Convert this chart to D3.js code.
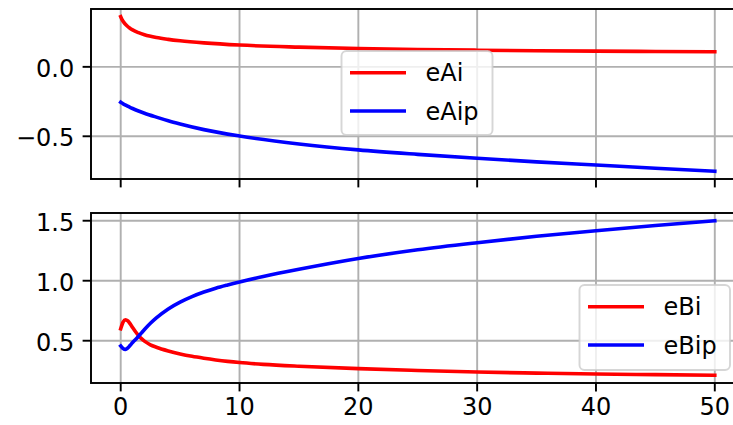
<!DOCTYPE html>
<html><head><meta charset="utf-8">
<script src="https://cdn.jsdelivr.net/npm/d3@7"></script>
<style>body{margin:0;background:#fff}svg{display:block}text{font-family:"DejaVu Sans",sans-serif}</style>
</head><body><svg id="c" width="733" height="425"></svg>
<script>
// ---- data ----
const xA = [0,0.1,0.25,0.5,0.75,1,1.5,2,3,4,5,7,10,15,20,25,30,35,40,45,50];
const eAi  = [0.361,0.342,0.322,0.298,0.28,0.266,0.246,0.231,0.211,0.198,0.188,0.173,0.157,0.142,0.132,0.125,0.12,0.116,0.113,0.111,0.109];
const eAip = [-0.255,-0.261,-0.268,-0.279,-0.29,-0.3,-0.318,-0.334,-0.362,-0.388,-0.411,-0.452,-0.498,-0.555,-0.598,-0.63,-0.658,-0.684,-0.707,-0.73,-0.752];
const xB = [0,0.2,0.4,0.6,0.8,1,1.25,1.5,1.75,2,2.5,3,4,5,6,7,8,9,10,12,15,20,25,30,35,40,45,50];
const eBi  = [0.60,0.655,0.675,0.665,0.64,0.61,0.575,0.543,0.517,0.496,0.466,0.446,0.415,0.39,0.37,0.354,0.34,0.328,0.318,0.303,0.287,0.267,0.252,0.239,0.23,0.222,0.217,0.212];
const eBip = [0.456,0.435,0.428,0.44,0.462,0.485,0.51,0.537,0.565,0.593,0.645,0.69,0.765,0.822,0.868,0.906,0.938,0.965,0.99,1.035,1.095,1.185,1.258,1.317,1.37,1.417,1.46,1.50];
const xTicks = [0,10,20,30,40,50];
const yTicksA = [-0.5,0.0];
const yTicksB = [0.5,1.0,1.5];
const legendA = ["eAi","eAip"];
const legendB = ["eBi","eBip"];
const colors = ["#ff0000","#0000ff"];

// ---- layout ----
const S = 2.4; // pt -> px
const svg = d3.select("#c");
const left = 91, right = 744.5;
const x = d3.scaleLinear().domain([-2.5,52.5]).range([left,right]);
function padded(arrs){const all=arrs.flat();const [a,b]=d3.extent(all);const p=(b-a)*0.05;return [a-p,b+p];}
const yA = d3.scaleLinear().domain(padded([eAi,eAip])).range([179,9]);
const yB = d3.scaleLinear().domain(padded([eBi,eBip])).range([383,213]);
const fmt = v => (v<0?"\u2212":"") + Math.abs(v).toFixed(1);

function panel(y, xs, series, yTicks, labels, showX, legend){
  const [y0,y1] = y.range();
  const g = svg.append("g");
  // grid
  xTicks.forEach(t=>g.append("line").attr("x1",x(t)).attr("x2",x(t)).attr("y1",y1).attr("y2",y0)
    .attr("stroke","#b0b0b0").attr("stroke-width",0.8*S));
  yTicks.forEach(t=>g.append("line").attr("x1",left).attr("x2",right).attr("y1",y(t)).attr("y2",y(t))
    .attr("stroke","#b0b0b0").attr("stroke-width",0.8*S));
  // lines
  const line = d3.line().x((d,i)=>x(xs[i])).y(d=>y(d)).curve(d3.curveMonotoneX);
  series.forEach((s,k)=>g.append("path").attr("d",line(s)).attr("fill","none")
    .attr("stroke",colors[k]).attr("stroke-width",1.5*S).attr("stroke-linecap","square"));
  // spines
  g.append("rect").attr("x",left).attr("y",y1).attr("width",right-left).attr("height",y0-y1)
    .attr("fill","none").attr("stroke","#000").attr("stroke-width",0.8*S);
  // ticks
  yTicks.forEach(t=>{
    g.append("line").attr("x1",left-3.5*S).attr("x2",left).attr("y1",y(t)).attr("y2",y(t)).attr("stroke","#000").attr("stroke-width",0.8*S);
    g.append("text").attr("x",left-7*S).attr("y",y(t)+10).attr("text-anchor","end").attr("font-size",24).text(fmt(t));
  });
  xTicks.forEach(t=>{
    g.append("line").attr("x1",x(t)).attr("x2",x(t)).attr("y1",y0).attr("y2",y0+3.5*S).attr("stroke","#000").attr("stroke-width",0.8*S);
    if(showX) g.append("text").attr("x",x(t)).attr("y",y0+32).attr("text-anchor","middle").attr("font-size",24).text(t);
  });
  // legend
  const L = legend;
  g.append("rect").attr("x",L.x).attr("y",L.y).attr("width",L.w).attr("height",L.h).attr("rx",5)
    .attr("fill","#fff").attr("fill-opacity",0.8).attr("stroke","#cccccc").attr("stroke-opacity",0.8).attr("stroke-width",0.8*S);
  labels.forEach((lab,k)=>{
    const ly = L.y + 21.7 + k*38.3;
    g.append("line").attr("x1",L.x+8.5).attr("x2",L.x+64.5).attr("y1",ly).attr("y2",ly).attr("stroke",colors[k]).attr("stroke-width",1.5*S);
    g.append("text").attr("x",L.x+84).attr("y",ly+8.7).attr("font-size",24).text(lab);
  });
}
panel(yA, xA, [eAi,eAip], yTicksA, legendA, false, {x:341.5,y:51,w:151,h:84});
panel(yB, xB, [eBi,eBip], yTicksB, legendB, true, {x:579.5,y:285,w:150.5,h:85});
</script></body></html>
